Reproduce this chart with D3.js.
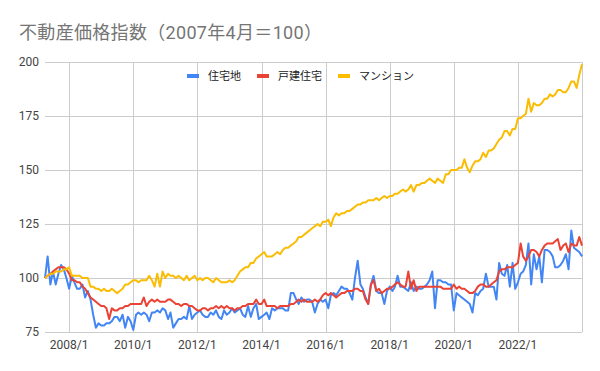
<!DOCTYPE html>
<html>
<head>
<meta charset="utf-8">
<script src="https://cdn.jsdelivr.net/npm/d3@7"></script>
<style>
  body { margin: 0; background: #fff; }
  text { font-family: Roboto, "Noto Sans CJK JP", sans-serif; }
</style>
</head>
<body>
<svg id="chart" width="600" height="371"></svg>
<script>
// 不動産価格指数, monthly from 2007/4 to 2024/1
const title = "不動産価格指数（2007年4月＝100）";
const seriesNames = ["住宅地", "戸建住宅", "マンション"];
const seriesColors = ["#4285F4", "#EA4335", "#FBBC04"];
const yTicks = [75, 100, 125, 150, 175, 200];
const xTickLabels = ["2008/1", "2010/1", "2012/1", "2014/1", "2016/1", "2018/1", "2020/1", "2022/1"];

const residential = [
  100, 110, 97, 103, 97, 102, 106, 104, 100,
  95, 101, 98, 95, 95, 97, 91, 94, 90, 83, 77, 79,
  78, 78, 79, 79, 80, 82, 82, 80, 83, 77, 82, 80,
  76, 83, 84, 83, 84, 83, 80, 84, 84, 85, 84, 86,
  85, 81, 84, 77, 79, 81, 81, 82, 81, 87, 81, 83,
  84, 85, 83, 82, 82, 84, 83, 85, 82, 81, 85, 83,
  84, 86, 84, 85, 86, 83, 82, 87, 82, 86, 88, 81,
  82, 83, 84, 81, 86, 85, 86, 86, 86, 85, 85, 93,
  93, 90, 88, 91, 89, 90, 90, 89, 84, 88, 90, 89,
  90, 86, 92, 93, 92, 94, 96, 95, 95, 93, 90, 100,
  108, 97, 95, 91, 88, 97, 101, 94, 93, 93, 88, 94,
  96, 94, 96, 101, 96, 96, 95, 94, 98, 94, 96, 95,
  95, 96, 97, 99, 103, 86, 99, 99, 98, 98, 97, 97,
  85, 93, 92, 91, 90, 89, 88, 84, 93, 92, 94, 95,
  102, 96, 96, 96, 90, 107, 102, 101, 106, 96, 107, 95,
  98, 102, 103, 106, 116, 97, 111, 104, 110, 98, 113, 113,
  112, 110, 105, 105, 106, 108, 111, 104, 122, 114, 113, 112,
  110
];

const detached = [
  100, 101, 102, 103, 104, 105, 105, 105, 104,
  102, 99, 99, 98, 98, 96, 95, 93, 91, 90, 89, 88,
  87, 87, 86, 81, 86, 85, 85, 86, 86, 87, 87, 88,
  88, 88, 88, 88, 91, 87, 89, 90, 89, 90, 89, 89,
  89, 90, 90, 89, 88, 88, 87, 88, 88, 87, 87, 86,
  85, 85, 86, 86, 85, 86, 86, 87, 86, 87, 86, 87,
  86, 86, 85, 86, 86, 87, 87, 88, 88, 88, 90, 88,
  88, 90, 87, 87, 87, 87, 86, 87, 87, 87, 87, 88,
  88, 89, 90, 89, 90, 89, 89, 89, 90, 89, 90, 92,
  93, 92, 93, 92, 91, 92, 93, 93, 94, 94, 94, 95,
  95, 94, 94, 90, 88, 97, 99, 94, 95, 93, 94, 95,
  95, 96, 97, 98, 97, 96, 96, 103, 95, 99, 94, 96,
  96, 96, 96, 96, 96, 96, 96, 96, 95, 95, 95, 95,
  97, 95, 96, 95, 95, 94, 93, 93, 94, 96, 97, 97,
  96, 96, 97, 98, 99, 103, 104, 104, 105, 105, 105, 106,
  107, 116, 110, 108, 110, 113, 113, 112, 110, 113, 115, 116,
  116, 116, 117, 118, 113, 115, 116, 112, 116, 115, 115, 119,
  115
];

const condo = [
  100, 101, 102, 102, 103, 103, 103, 104, 104,
  105, 101, 101, 101, 101, 100, 100, 100, 96, 96, 95, 95,
  94, 95, 94, 94, 95, 94, 93, 94, 95, 97, 97, 98,
  99, 99, 98, 99, 99, 99, 101, 99, 96, 102, 96, 103,
  100, 102, 101, 101, 100, 101, 100, 99, 101, 99, 100, 101,
  99, 100, 99, 100, 100, 99, 98, 100, 99, 98, 98, 98,
  99, 98, 99, 101, 103, 104, 105, 105, 107, 107, 109, 110,
  111, 112, 110, 110, 110, 111, 112, 111, 113, 114, 114, 115,
  116, 117, 119, 119, 120, 121, 122, 123, 124, 125, 124, 126,
  126, 127, 124, 128, 130, 129, 130, 130, 131, 131, 132, 133,
  134, 134, 135, 135, 136, 136, 136, 137, 136, 137, 138, 137,
  138, 138, 139, 139, 140, 141, 140, 141, 143, 140, 143, 143,
  144, 144, 145, 146, 145, 144, 146, 145, 144, 148, 148, 150,
  150, 150, 151, 151, 155, 151, 149, 152, 154, 154, 155, 158,
  156, 159, 159, 160, 162, 164, 165, 168, 168, 166, 169, 169,
  174, 174, 175, 176, 183, 177, 181, 180, 180, 181, 183, 183,
  185, 184, 185, 187, 187, 186, 186, 188, 191, 191, 188, 194,
  199
];

const allSeries = [residential, detached, condo];
const months = residential.map((_, i) => new Date(2007, 3 + i, 1));

const svg = d3.select('#chart');
const margin = { left: 45, right: 18, top: 62, bottom: 39 };
const width = 600, height = 371;

const x = d3.scaleTime()
    .domain([months[0], months[months.length - 1]])
    .range([margin.left, width - margin.right]);
const y = d3.scaleLinear()
    .domain([75, 200])
    .range([height - margin.bottom, margin.top]);

svg.append('rect').attr('width', width).attr('height', height).attr('fill', '#fff');

// title
svg.append('text')
    .attr('x', 19)
    .attr('y', 39)
    .attr('font-size', 18)
    .attr('textLength', 303)
    .attr('lengthAdjust', 'spacing')
    .attr('fill', '#757575')
    .text(title);

// horizontal grid + y labels
const yAxis = svg.append('g');
yAxis.selectAll('line')
    .data(yTicks)
    .enter().append('line')
    .attr('x1', margin.left)
    .attr('x2', width - margin.right)
    .attr('y1', d => Math.round(y(d)) + 0.5)
    .attr('y2', d => Math.round(y(d)) + 0.5)
    .attr('stroke', '#cccccc');
yAxis.selectAll('text')
    .data(yTicks)
    .enter().append('text')
    .attr('x', margin.left - 6)
    .attr('y', d => y(d))
    .attr('dy', '0.35em')
    .attr('text-anchor', 'end')
    .attr('font-size', 12)
    .attr('fill', '#444')
    .text(d => d);

// vertical grid every two years, labels on 2008..2022
const gridYears = d3.range(2008, 2025, 2).map(yr => new Date(yr, 0, 1));
svg.append('g').selectAll('line')
    .data(gridYears)
    .enter().append('line')
    .attr('x1', d => Math.round(x(d)) + 0.5)
    .attr('x2', d => Math.round(x(d)) + 0.5)
    .attr('y1', margin.top)
    .attr('y2', height - margin.bottom)
    .attr('stroke', '#cccccc');
svg.append('g').selectAll('text')
    .data(xTickLabels)
    .enter().append('text')
    .attr('x', (d, i) => x(gridYears[i]))
    .attr('y', 349)
    .attr('text-anchor', 'middle')
    .attr('font-size', 12)
    .attr('fill', '#444')
    .text(d => d);

// lines
const line = d3.line()
    .x((d, i) => x(months[i]))
    .y(d => y(d));

svg.append('g').selectAll('path')
    .data(allSeries)
    .enter().append('path')
    .attr('d', line)
    .attr('fill', 'none')
    .attr('stroke', (d, i) => seriesColors[i])
    .attr('stroke-width', 2)
    .attr('stroke-linejoin', 'round');

// legend, centered above plot
const legend = svg.append('g');
const items = legend.selectAll('g')
    .data(seriesNames)
    .enter().append('g');
items.append('rect')
    .attr('width', 12)
    .attr('height', 4)
    .attr('y', -2)
    .attr('fill', (d, i) => seriesColors[i]);
items.append('text')
    .attr('x', 21)
    .attr('dy', '0.35em')
    .attr('font-size', 11)
    .attr('fill', '#222')
    .text(d => d);

let offset = 0;
items.each(function () {
    d3.select(this).attr('transform', `translate(${offset},0)`);
    const w = d3.select(this).select('text').node().getComputedTextLength();
    offset += 21 + w + 16;
});
const legendWidth = offset - 16;
legend.attr('transform', `translate(${Math.round(300 - legendWidth / 2)},76)`);
</script>
</body>
</html>
